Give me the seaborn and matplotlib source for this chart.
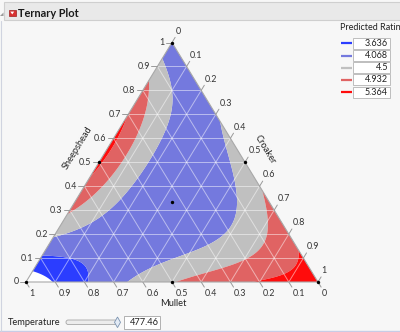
import numpy as np
import matplotlib
matplotlib.use("Agg")
import matplotlib.pyplot as plt
from matplotlib.patches import Polygon, Rectangle, FancyBboxPatch
import seaborn as sns

# Contour levels of the predicted rating and the colour of each band
levels = [3.636, 4.068, 4.5, 4.932, 5.364]
level_colors = ["#2b3dff", "#7479de", "#c0c0c0", "#e06363", "#ff0c0c"]

# Ratings at mixture compositions (Mullet and Sheepshead shares, Croaker is the rest)
mullet = [1, 0, 0,
          0.954, 0.927, 0.912, 0.908,
          0.895, 0.834, 0.781, 0.761, 0.765, 0.786,
          0.076, 0.074, 0.101, 0.155, 0.235, 0.332, 0.444, 0.581, 0.717, 0.814,
          0, 0.012, 0.034, 0.072, 0.123, 0.189, 0.286, 0.399, 0.535, 0.612, 0.651,
          0.164, 0.181, 0.237, 0.338, 0.452, 0.559, 0.71,
          0, 0.031, 0.077, 0.12, 0.174, 0.246, 0.358, 0.485,
          0.29, 0.384, 0.489, 0.575,
          0, 0.043, 0.11, 0.193, 0.221,
          0.55, 0.5, 0.4, 0.33, 0.1,
          0.333, 0.5, 0.25, 0.4, 0.65, 0.02, 0.12]
sheepshead = [0, 1, 0,
              0.046, 0.032, 0.015, 0,
              0.105, 0.102, 0.095, 0.077, 0.046, 0,
              0.924, 0.871, 0.799, 0.699, 0.599, 0.499, 0.4, 0.299, 0.221, 0.186,
              0.697, 0.599, 0.499, 0.4, 0.299, 0.2, 0.144, 0.102, 0.06, 0.032, 0,
              0.836, 0.799, 0.699, 0.599, 0.499, 0.4, 0.29,
              0.431, 0.299, 0.2, 0.144, 0.116, 0.088, 0.046, 0,
              0.71, 0.599, 0.499, 0.425,
              0.116, 0.081, 0.039, 0.011, 0,
              0.45, 0.5, 0.6, 0.67, 0,
              0.333, 0.25, 0.45, 0.15, 0.15, 0.85, 0.6]
rating = [3.3, 4.12, 5.55,
          3.636, 3.636, 3.636, 3.636,
          4.068, 4.068, 4.068, 4.068, 4.068, 4.068,
          4.5, 4.5, 4.5, 4.5, 4.5, 4.5, 4.5, 4.5, 4.5, 4.5,
          4.5, 4.5, 4.5, 4.5, 4.5, 4.5, 4.5, 4.5, 4.5, 4.5, 4.5,
          4.932, 4.932, 4.932, 4.932, 4.932, 4.932, 4.932,
          4.932, 4.932, 4.932, 4.932, 4.932, 4.932, 4.932, 4.932,
          5.364, 5.364, 5.364, 5.364,
          5.364, 5.364, 5.364, 5.364, 5.364,
          5.48, 5.51, 5.5, 5.43, 5.45,
          4.3, 4.3, 4.3, 4.3, 4.3, 4.3, 4.3]

# Mixture design points (vertices, edge midpoints, centroid)
design_mullet = [1, 0, 0, 0.5, 0.5, 0, 1 / 3]
design_sheepshead = [0, 1, 0, 0.5, 0, 0.5, 1 / 3]

tick_values = [0, 0.1, 0.2, 0.3, 0.4, 0.5, 0.6, 0.7, 0.8, 0.9, 1]
temperature = 477.46

# Corners of the ternary triangle on the canvas
P_M = np.array([26.0, 282.0])    # Mullet = 1
P_C = np.array([318.0, 282.0])   # Croaker = 1
P_S = np.array([172.0, 42.5])    # Sheepshead = 1


def to_xy(m, s):
    m = np.asarray(m, float)
    s = np.asarray(s, float)
    c = 1 - m - s
    return (m * P_M[0] + s * P_S[0] + c * P_C[0],
            m * P_M[1] + s * P_S[1] + c * P_C[1])


def from_xy(x, y):
    s = (P_M[1] - y) / (P_M[1] - P_S[1])
    c = (x - P_M[0] - s * (P_S[0] - P_M[0])) / (P_C[0] - P_M[0])
    return 1 - s - c, s


def basis(m, s):
    c = 1 - m - s
    return np.stack([m, s, c, m * s, m * c, s * c,
                     m * s * (m - s), m * c * (m - c), s * c * (s - c), m * s * c,
                     m * s * (m - s) ** 2, m * c * (m - c) ** 2, s * c * (s - c) ** 2,
                     m * m * s * c, m * s * s * c, m * s * c * c], axis=-1)


# Scheffe-type mixture model fitted to the ratings
X = basis(np.array(mullet), np.array(sheepshead))
y = np.array(rating)
lam = 1e-5
coef = np.linalg.solve(X.T @ X + lam * np.eye(X.shape[1]), X.T @ y)

sns.set_theme(style="white")
plt.rcParams["font.family"] = ["Lato", "DejaVu Sans"]

bg = "#f7f7f7"
fig = plt.figure(figsize=(4.0, 3.32), dpi=100, facecolor=bg)
ax = fig.add_axes([0, 0, 1, 1])
ax.set_facecolor(bg)

# Header bar
ax.add_patch(Rectangle((4, 2), 400, 18, facecolor="#e9e9e9", edgecolor="#cfcfcf", lw=0.8))
ax.add_patch(Polygon([[0, 16], [3.5, 12.5], [3.5, 16]], closed=True, facecolor="#9a9a9a", edgecolor="none"))
ax.add_patch(Rectangle((9, 9.5), 6.5, 6.5, facecolor="#d83232", edgecolor="#a02020", lw=0.5))
ax.add_patch(Polygon([[10.3, 11.6], [14.2, 11.6], [12.25, 14.4]], closed=True, facecolor="white", edgecolor="none"))
ax.text(17.5, 13.3, "Ternary Plot", fontsize=7.9, fontweight="bold", color="#1a1a1a", va="center", ha="left")

# Triangle with filled contours of the fitted surface
ax.add_patch(Polygon([P_M, P_C, P_S], closed=True, facecolor="white", edgecolor="none"))
gx, gy = np.meshgrid(np.linspace(18, 326, 800), np.linspace(36, 288, 650))
gm, gs = from_xy(gx, gy)
gz = basis(gm, gs) @ coef
cf = ax.contourf(gx, gy, gz, levels=levels + [100], colors=level_colors, antialiased=True)
clip = Polygon([P_M, P_C, P_S], closed=True, transform=ax.transData)
cf.set_clip_path(clip)

# Grid lines every 0.1 in the three component directions
for v in tick_values[1:-1]:
    for (m0, s0), (m1, s1) in [((1 - v, v), (0, v)),
                               ((v, 1 - v), (v, 0)),
                               ((0, 1 - v), (1 - v, 0))]:
        x0, y0 = to_xy(m0, s0)
        x1, y1 = to_xy(m1, s1)
        ax.plot([x0, x1], [y0, y1], color="white", alpha=0.5, lw=0.7, zorder=3)

# Triangle outline
ax.add_patch(Polygon([P_M, P_C, P_S], closed=True, facecolor="none", edgecolor="#a8a8a8", lw=0.8, zorder=4))

# Axis ticks and labels
u_bottom = (P_C - P_S) / np.linalg.norm(P_C - P_S)
u_right = (P_S - P_M) / np.linalg.norm(P_S - P_M)
tick_len = 6
lab_kw = dict(fontsize=6.4, color="#333333", zorder=6)
for v in tick_values:
    lab = f"{v:g}"
    # Sheepshead, left side
    x, yv = to_xy(1 - v, v)
    ax.plot([x, x - tick_len], [yv, yv], color="#9a9a9a", lw=0.7, zorder=4)
    ax.text(x - tick_len - 1.5, yv, lab, ha="right", va="center", **lab_kw)
    # Mullet, bottom side
    x, yv = to_xy(v, 0)
    ax.plot([x, x + tick_len * u_bottom[0]], [yv, yv + tick_len * u_bottom[1]], color="#9a9a9a", lw=0.7, zorder=4)
    ax.text(x + 3.5, yv + 11.5, lab, ha="left", va="center", **lab_kw)
    # Croaker, right side
    x, yv = to_xy(0, 1 - v)
    ax.plot([x, x + tick_len * u_right[0]], [yv, yv + tick_len * u_right[1]], color="#9a9a9a", lw=0.7, zorder=4)
    ax.text(x + 3.5, yv - 11.3, lab, ha="left", va="center", **lab_kw)

ang = np.degrees(np.arctan2(P_M[1] - P_S[1], P_S[0] - P_M[0]))
mid_left = (P_M + P_S) / 2
mid_right = (P_C + P_S) / 2
mid_bottom = (P_M + P_C) / 2
ax.text(mid_left[0] - 21, mid_left[1] - 14, "Sheepshead", rotation=ang, ha="center", va="center",
        rotation_mode="anchor", fontsize=6.7, color="#222222")
ax.text(mid_right[0] + 20, mid_right[1] - 13, "Croaker", rotation=-ang, ha="center", va="center",
        rotation_mode="anchor", fontsize=6.7, color="#222222")
ax.text(mid_bottom[0] + 1, mid_bottom[1] + 21, "Mullet", ha="center", va="center", fontsize=6.7, color="#222222")

# Design points
dx, dy = to_xy(design_mullet, design_sheepshead)
sns.scatterplot(x=dx, y=dy, ax=ax, color="black", s=6, linewidth=0, zorder=7, legend=False)

# Legend of contour levels
ax.text(340, 27.5, "Predicted Ratin", fontsize=6.5, color="#222222", ha="left", va="center")
for i, (lv, col) in enumerate(zip(levels, level_colors)):
    yy = 43.3 + i * 12.2
    ax.plot([341, 352], [yy, yy], color=col, lw=1.6, solid_capstyle="butt")
    ax.add_patch(Rectangle((353, yy - 5.5), 36.5, 11, facecolor="white", edgecolor="#b4b4b4", lw=0.6))
    ax.text(388, yy, f"{lv:g}", fontsize=6.5, color="#222222", ha="right", va="center")

# Temperature slider
ax.text(8.3, 322.5, "Temperature", fontsize=6.7, color="#222222", ha="left", va="center")
ax.add_patch(FancyBboxPatch((66, 320), 51, 4.5, boxstyle="round,pad=0,rounding_size=2.2",
                            facecolor="#ececec", edgecolor="#a6a6a6", lw=0.6))
ax.add_patch(Polygon([[117.5, 317], [120.5, 322.3], [117.5, 327.6], [114.5, 322.3]], closed=True,
                     facecolor="#e3ebf5", edgecolor="#7b93b0", lw=0.6))
ax.add_patch(Rectangle((124, 316.3), 36, 12.5, facecolor="white", edgecolor="#a6a6a6", lw=0.6))
ax.text(158.5, 322.5, f"{temperature:.2f}", fontsize=6.7, color="#222222", ha="right", va="center")

# Frame lines of the report window
ax.plot([0, 400], [330.5, 330.5], color="#c8cce6", lw=1.0)
ax.plot([0.6, 0.6], [21, 332], color="#d0d4e0", lw=0.8)

ax.set_xlim(0, 400)
ax.set_ylim(332, 0)
ax.axis("off")

fig.savefig("out.png", dpi=100, facecolor=bg)
